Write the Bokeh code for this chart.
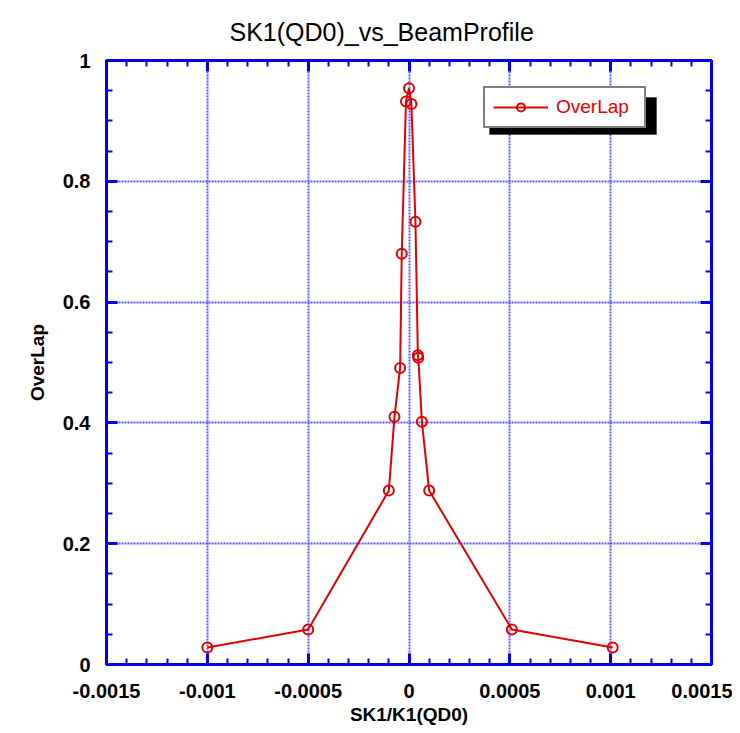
from bokeh.plotting import figure
from bokeh.models import (LinearAxis, Range1d, Legend, LegendItem, BoxAnnotation,
                          FixedTicker)
from bokeh.embed import file_html
from bokeh.resources import INLINE

# ---- data ----
sk1 = [-0.001, -0.0005, -0.0001, -0.000072, -0.000044, -0.000036, -0.000015, 0.0,
       0.000012, 0.000032, 0.000044, 0.000046, 0.000064, 0.0001, 0.00051, 0.00101]
overlap = [0.028, 0.058, 0.288, 0.410, 0.491, 0.680, 0.932, 0.954,
           0.928, 0.733, 0.512, 0.508, 0.402, 0.288, 0.058, 0.028]
x_ticks = [-0.0015, -0.001, -0.0005, 0.0, 0.0005, 0.001, 0.0015]
x_tick_labels = ["-0.0015", "-0.001", "-0.0005", "0", "0.0005", "0.001", "0.0015"]
y_ticks = [0, 0.2, 0.4, 0.6, 0.8, 1.0]
y_tick_labels = ["0", "0.2", "0.4", "0.6", "0.8", "1"]

title = "SK1(QD0)_vs_BeamProfile"
x_label = "SK1/K1(QD0)"
y_label = "OverLap"
series_name = "OverLap"

FONT = "Liberation Sans"
BLUE = "#0000ee"
RED = "#e00000"

FW, FH = 605, 604
XMIN, XMAX = -0.0015, 0.0015
YMIN, YMAX = 0.0, 1.0

p = figure(frame_width=FW, frame_height=FH, output_backend="svg", toolbar_location=None,
           x_range=Range1d(XMIN, XMAX), y_range=Range1d(YMIN, YMAX),
           x_axis_location=None, y_axis_location=None,
           min_border_left=106, min_border_right=21, min_border_top=59, min_border_bottom=62)
p.background_fill_color = "white"
p.border_fill_color = "white"
p.outline_line_color = BLUE
p.outline_line_width = 3

p.title.text = title
p.title.text_font = FONT
p.title.text_font_size = "25px"
p.title.text_font_style = "normal"
p.title.text_color = "black"
p.title.align = "left"
p.title.offset = 123
p.title.standoff = 30

xminor = [round(-0.0015 + i * 0.0001, 6) for i in range(31)]
yminor = [round(i * 0.05, 3) for i in range(21)]


def style_axis(ax, show_labels, major_ticks, minor_ticks, labels):
    ax.ticker = FixedTicker(ticks=major_ticks, minor_ticks=minor_ticks)
    ax.major_label_overrides = {t: l for t, l in zip(major_ticks, labels)}
    ax.axis_line_color = BLUE
    ax.axis_line_width = 3
    ax.major_tick_line_color = BLUE
    ax.major_tick_line_width = 3
    ax.minor_tick_line_color = BLUE
    ax.minor_tick_line_width = 2
    ax.major_tick_in = 11
    ax.major_tick_out = 0
    ax.minor_tick_in = 6
    ax.minor_tick_out = 0
    ax.major_label_text_font = FONT
    ax.major_label_text_font_style = "bold"
    ax.major_label_text_font_size = "20px"
    ax.major_label_text_color = "black"
    ax.axis_label_text_font = FONT
    ax.axis_label_text_font_style = "bold"
    ax.axis_label_text_font_size = "19px"
    ax.axis_label_text_color = "black"
    if not show_labels:
        ax.major_label_text_alpha = 0
        ax.major_label_text_font_size = "1px"
        ax.major_label_standoff = 0


xb = LinearAxis(axis_label=x_label)
style_axis(xb, True, x_ticks, xminor, x_tick_labels)
xb.major_label_standoff = 19
xb.axis_label_standoff = 3
p.add_layout(xb, "below")

yl = LinearAxis(axis_label=y_label)
style_axis(yl, True, y_ticks, yminor, y_tick_labels)
yl.major_label_standoff = 16
yl.axis_label_standoff = 12
p.add_layout(yl, "left")

xt = LinearAxis()
style_axis(xt, False, x_ticks, xminor, x_tick_labels)
p.add_layout(xt, "above")
yr = LinearAxis()
style_axis(yr, False, y_ticks, yminor, y_tick_labels)
p.add_layout(yr, "right")

for g in (p.xgrid, p.ygrid):
    g.grid_line_color = "#4848ff"
    g.grid_line_alpha = 0.9
    g.grid_line_width = 2
    g.grid_line_dash = "2 1"
p.xgrid.ticker = FixedTicker(ticks=x_ticks[1:-1])
p.ygrid.ticker = FixedTicker(ticks=y_ticks[1:-1])

ln = p.line(sk1, overlap, line_color=RED, line_width=2)
sc = p.scatter(sk1, overlap, marker="circle", size=10, fill_color=None,
               line_color=RED, line_width=2)

# legend placement in frame pixels (from bottom-left of frame)
LX, LY, LW, LH = 377, 536, 167, 37
SH = 6
def dx(px):
    return XMIN + px / FW * (XMAX - XMIN)
def dy(py):
    return YMIN + py / FH * (YMAX - YMIN)
shadow = BoxAnnotation(left=dx(LX + SH), right=dx(LX + LW + SH),
                       bottom=dy(LY - SH), top=dy(LY + LH - SH),
                       fill_color="black", fill_alpha=1, line_color="black", level="overlay")
p.add_layout(shadow)

legend = Legend(items=[LegendItem(label=series_name, renderers=[ln, sc])],
                location=(LX, LY), orientation="vertical")
legend.border_line_color = "black"
legend.border_line_width = 2
legend.background_fill_color = "white"
legend.background_fill_alpha = 1
legend.label_text_color = RED
legend.label_text_font = FONT
legend.label_text_font_size = "19px"
legend.glyph_width = 55
legend.glyph_height = 20
legend.label_standoff = 8
legend.label_width = 80
legend.padding = 8
legend.margin = 0
legend.spacing = 0
legend.level = "overlay"
p.add_layout(legend)

out = file_html(p, INLINE)
open("out.html", "w").write(out)
